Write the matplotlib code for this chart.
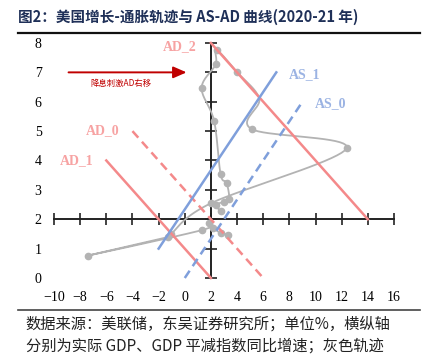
import matplotlib.pyplot as plt
import numpy as np

plt.rcParams['font.family'] = ['Noto Sans CJK SC', 'DejaVu Sans']

# AD / AS lines: (x0, y0, x1, y1)
ad_lines = {'AD_0': (-4, 5, 6, 0), 'AD_1': (-6, 4, 2, 0), 'AD_2': (2, 8, 14, 2)}
as_lines = {'AS_0': (0, 0, 9, 6), 'AS_1': (-2, 1, 7, 7)}
line_dash = {'AD_0': True, 'AD_1': False, 'AD_2': False, 'AS_0': True, 'AS_1': False}
label_pos = {'AD_0': (-6.3, 5.0), 'AD_1': (-8.3, 4.0), 'AD_2': (-0.35, 7.86),
             'AS_0': (11.15, 5.95), 'AS_1': (9.15, 6.94)}

# growth-inflation trajectory (real GDP yoy, GDP deflator yoy)
traj_x = [3.33, 2.74, 2.18, 1.87, 1.31, -7.43, -1.25, -1.05, 1.98, 12.37, 5.11, 5.70,
          4.01, 2.43, 2.36, 1.29, 2.25, 2.74, 3.20, 3.40, 3.00, 2.38, 2.74]
traj_y = [1.46, 1.54, 1.69, 1.86, 1.63, 0.76, 1.40, 1.50, 2.54, 4.41, 5.07, 6.10,
          7.00, 7.76, 7.27, 6.47, 5.34, 3.53, 3.24, 2.68, 2.60, 2.48, 2.28]
hidden_dot = 11  # point under the AS_1 / AD_2 crossing

xticks = list(range(-10, 17, 2))
yticks = list(range(0, 9))

AD_COLOR = '#F4898A'
AS_COLOR = '#7F9FDB'
AD_TXT = '#F7A3A3'
AS_TXT = '#9BB3E3'


def smooth(xs, ys, n=20):
    # excel-like smoothed line through the points
    p = np.column_stack([xs, ys]).astype(float)
    out = []
    for i in range(len(p) - 1):
        p0 = p[max(i - 1, 0)]
        p1, p2 = p[i], p[i + 1]
        p3 = p[min(i + 2, len(p) - 1)]
        c1 = p1 + (p2 - p0) / 6
        c2 = p2 - (p3 - p1) / 6
        t = np.linspace(0, 1, n)[:, None]
        seg = (1 - t) ** 3 * p1 + 3 * (1 - t) ** 2 * t * c1 + 3 * (1 - t) * t ** 2 * c2 + t ** 3 * p2
        out.append(seg)
    out = np.vstack(out)
    return out[:, 0], out[:, 1]


fig = plt.figure(figsize=(4.32, 3.55), dpi=100)
ax = fig.add_axes([0.125, 0.2169, 0.787, 0.662])
ax.set_xlim(-10, 16)
ax.set_ylim(0, 8)
for s in ax.spines.values():
    s.set_visible(False)
ax.set_xticks(xticks)
ax.set_yticks(yticks)
ax.tick_params(length=0, labelsize=10)
ax.tick_params(axis='x', pad=9)
ax.tick_params(axis='y', pad=9)
for lab in ax.get_xticklabels() + ax.get_yticklabels():
    lab.set_family('Liberation Serif')

# cross axes through (2, 2)
ax.plot([-10, 16], [2, 2], color='#222222', lw=1.4, zorder=2, clip_on=False)
ax.plot([2, 2], [0, 8], color='#222222', lw=1.4, zorder=2, clip_on=False)
ax.plot(xticks, [2] * len(xticks), ls='none', marker='|', ms=8, mew=1.2,
        color='#222222', zorder=2, clip_on=False)
ax.plot([2] * len(yticks), yticks, ls='none', marker='_', ms=9, mew=1.2,
        color='#222222', zorder=2, clip_on=False)

# trajectory
sx, sy = smooth(traj_x, traj_y)
ax.plot(sx, sy, color='#B3B3B3', lw=1.3, zorder=3, clip_on=False)
shown = [i for i in range(len(traj_x)) if i != hidden_dot]
ax.plot(traj_x, traj_y, ls='none', marker='o', ms=4.5, color='#B3B3B3',
        markevery=shown, zorder=3, clip_on=False)

for name, (x0, y0, x1, y1) in list(ad_lines.items()) + list(as_lines.items()):
    c = AD_COLOR if name.startswith('AD') else AS_COLOR
    tc = AD_TXT if name.startswith('AD') else AS_TXT
    ls = (0, (3.5, 2.2)) if line_dash[name] else '-'
    ax.plot([x0, x1], [y0, y1], color=c, lw=1.8, ls=ls, zorder=4, clip_on=False)
    lx, ly = label_pos[name]
    ax.text(lx, ly, name, color=tc, fontsize=10, fontweight='bold',
            family='Liberation Serif', ha='center', va='center')

# arrow
ax.annotate('', xy=(0.35, 7), xytext=(-9.1, 7),
            arrowprops=dict(arrowstyle='-|>,head_length=0.8,head_width=0.35',
                            color='#C00000', lw=1.4))
ax.text(-4.85, 6.62, '降息刺激AD右移', color='#C00000', fontsize=6, ha='center', va='center')

# title and notes
fig.text(0.042, 0.952, '图2：美国增长-通胀轨迹与 AS-AD 曲线(2020-21 年)', fontsize=10.5,
         fontweight='bold', color='#1F3058', ha='left', va='center')
fig.add_artist(plt.Line2D([0.042, 0.972], [0.907, 0.907], color='#111111', lw=1.6))
fig.add_artist(plt.Line2D([0.042, 0.972], [0.127, 0.127], color='#444444', lw=1.2))
fig.text(0.06, 0.088, '数据来源：美联储，东吴证券研究所；单位%，横纵轴', fontsize=11,
         color='#222222', ha='left', va='center')
fig.text(0.06, 0.025, '分别为实际 GDP、GDP 平减指数同比增速；灰色轨迹', fontsize=11,
         color='#222222', ha='left', va='center')

fig.savefig('out.png', dpi=100)
